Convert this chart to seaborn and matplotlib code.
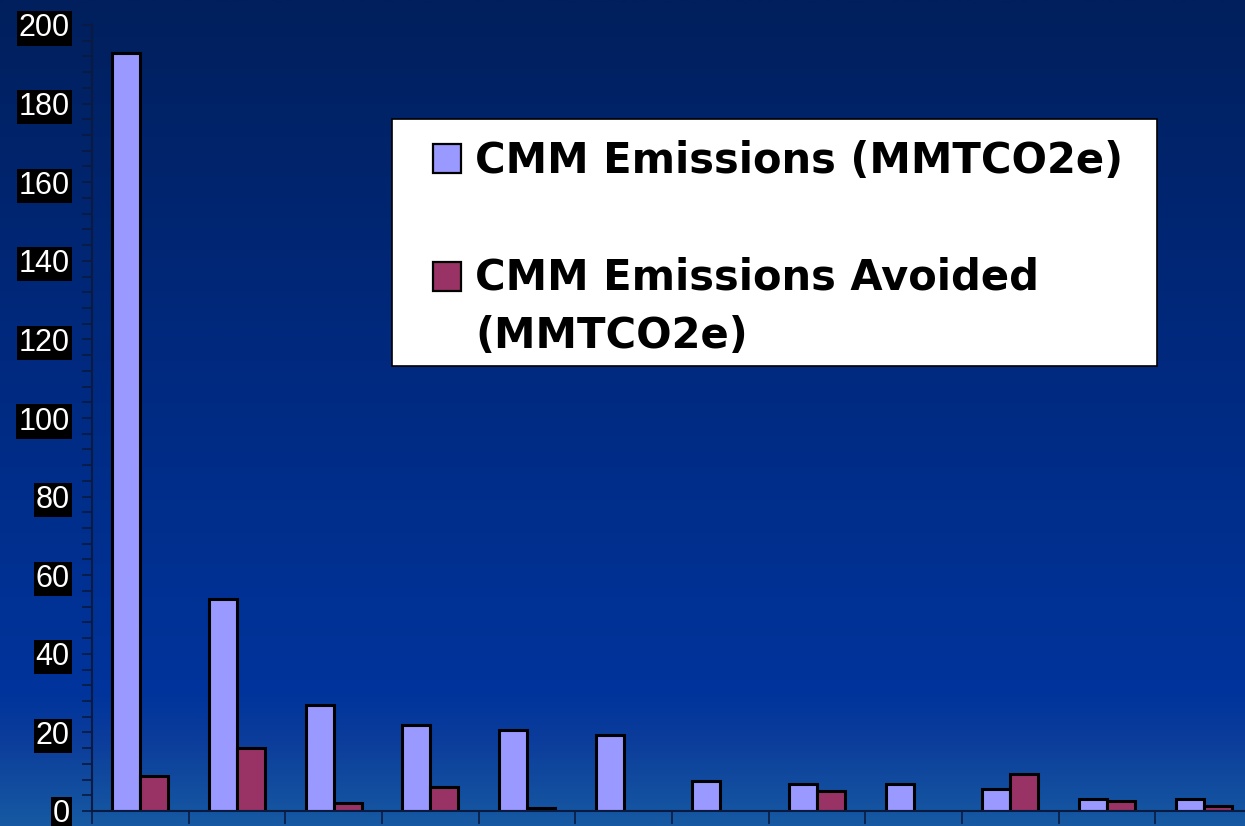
import numpy as np
import pandas as pd
import matplotlib
matplotlib.use("Agg")
import matplotlib.pyplot as plt
import matplotlib.patches as mpatches
from matplotlib.colors import LinearSegmentedColormap
from matplotlib.ticker import MultipleLocator
from matplotlib.legend_handler import HandlerPatch
import seaborn as sns

# data (MMTCO2e), 12 unlabeled categories
positions = list(range(1, 13))
emissions = [193, 54, 27, 22, 20.6, 19.3, 7.6, 6.9, 6.9, 5.6, 3.1, 3.1]
avoided = [9, 16, 2, 6, 0.7, np.nan, np.nan, 5, np.nan, 9.4, 2.5, 1.3]
series_names = ["CMM Emissions (MMTCO2e)", "CMM Emissions Avoided\n(MMTCO2e)"]
series_colors = ["#9999ff", "#993366"]
y_ticks = list(range(0, 201, 20))

df = pd.DataFrame({
    "pos": positions * 2,
    "value": emissions + avoided,
    "series": [series_names[0]] * 12 + [series_names[1]] * 12,
}).dropna()

sns.set_theme(style="white")
plt.rcParams["font.family"] = ["Liberation Sans", "DejaVu Sans"]

W, H = 1245, 826
fig = plt.figure(figsize=(W / 100, H / 100), dpi=100)

# gradient background
bg = fig.add_axes([0, 0, 1, 1], zorder=-10)
cmap = LinearSegmentedColormap.from_list("bg", [
    (0.0, "#001f5c"), (0.45, "#002a80"), (0.84, "#00349c"),
    (0.9, "#0c3d9b"), (1.0, "#1659a2")])
grad = np.linspace(0, 1, 400).reshape(-1, 1)
bg.imshow(grad, aspect="auto", cmap=cmap, extent=[0, 1, 0, 1], origin="upper")
bg.set_axis_off()

ax = fig.add_axes([92 / W, (H - 811) / H, (1252 - 92) / W, (811 - 25) / H])
ax.set_facecolor("none")

sns.barplot(data=df, x="pos", y="value", hue="series", order=positions,
            hue_order=series_names, palette=series_colors, width=0.58,
            edgecolor="black", linewidth=2.2, saturation=1, ax=ax, legend=False)

ax.set_xlim(-0.5, 11.5)
ax.set_ylim(0, 200)
ax.set_xticks(np.arange(-0.5, 12, 1))
ax.set_xticklabels([])
ax.set_yticks(y_ticks)
ax.set_yticklabels([str(t) for t in y_ticks])
ax.yaxis.set_minor_locator(MultipleLocator(4))
ax.set_xlabel("")
ax.set_ylabel("")

for s in ["top", "right"]:
    ax.spines[s].set_visible(False)
for s in ["left", "bottom"]:
    ax.spines[s].set_color("#0a1a40")
    ax.spines[s].set_linewidth(1.5)

ax.tick_params(axis="y", which="major", direction="out", length=7, width=1.2,
               color="#0a1a40", labelsize=22, labelcolor="white", pad=9, left=True)
ax.tick_params(axis="y", which="minor", direction="out", length=7, width=1.2,
               color="#0a1a40", left=True)
ax.tick_params(axis="x", which="major", direction="out", length=9, width=1.2,
               color="#0a1a40", bottom=True)
for lab in ax.get_yticklabels():
    lab.set_bbox(dict(facecolor="black", edgecolor="none", pad=1.5))

# legend: white box drawn separately, square swatch level with the first text line
LEG_FS = 30
SQ_W, SQ_H = 0.66, 0.7


def square_patch(lift):
    def make(legend, orig_handle, xdescent, ydescent, width, height, fontsize):
        w, h = SQ_W * fontsize, SQ_H * fontsize
        return mpatches.Rectangle((width - w - xdescent, -ydescent + lift * fontsize), w, h)
    return make


box = mpatches.Rectangle((392 / W, 1 - 366 / H), (1157 - 392) / W, (366 - 119) / H,
                         transform=fig.transFigure, facecolor="white",
                         edgecolor="black", linewidth=1.2, zorder=4)
ax.add_patch(box)

handles = [mpatches.Patch(facecolor=c, edgecolor="black", linewidth=1.6)
           for c in series_colors]
leg = ax.legend(handles, series_names, loc="upper left",
                bbox_to_anchor=(406 / W, 1 - 140 / H), bbox_transform=fig.transFigure,
                borderaxespad=0, borderpad=0, frameon=False,
                prop={"family": "DejaVu Sans", "weight": "bold", "size": LEG_FS},
                labelcolor="black", handlelength=1.31, handleheight=0.7,
                handletextpad=0.35, labelspacing=1.8,
                handler_map={handles[0]: HandlerPatch(patch_func=square_patch(0.0)),
                             handles[1]: HandlerPatch(patch_func=square_patch(0.78))})
leg.set_zorder(5)
for t in leg.get_texts():
    t.set_linespacing(1.47)

fig.savefig("out.png", dpi=100)
